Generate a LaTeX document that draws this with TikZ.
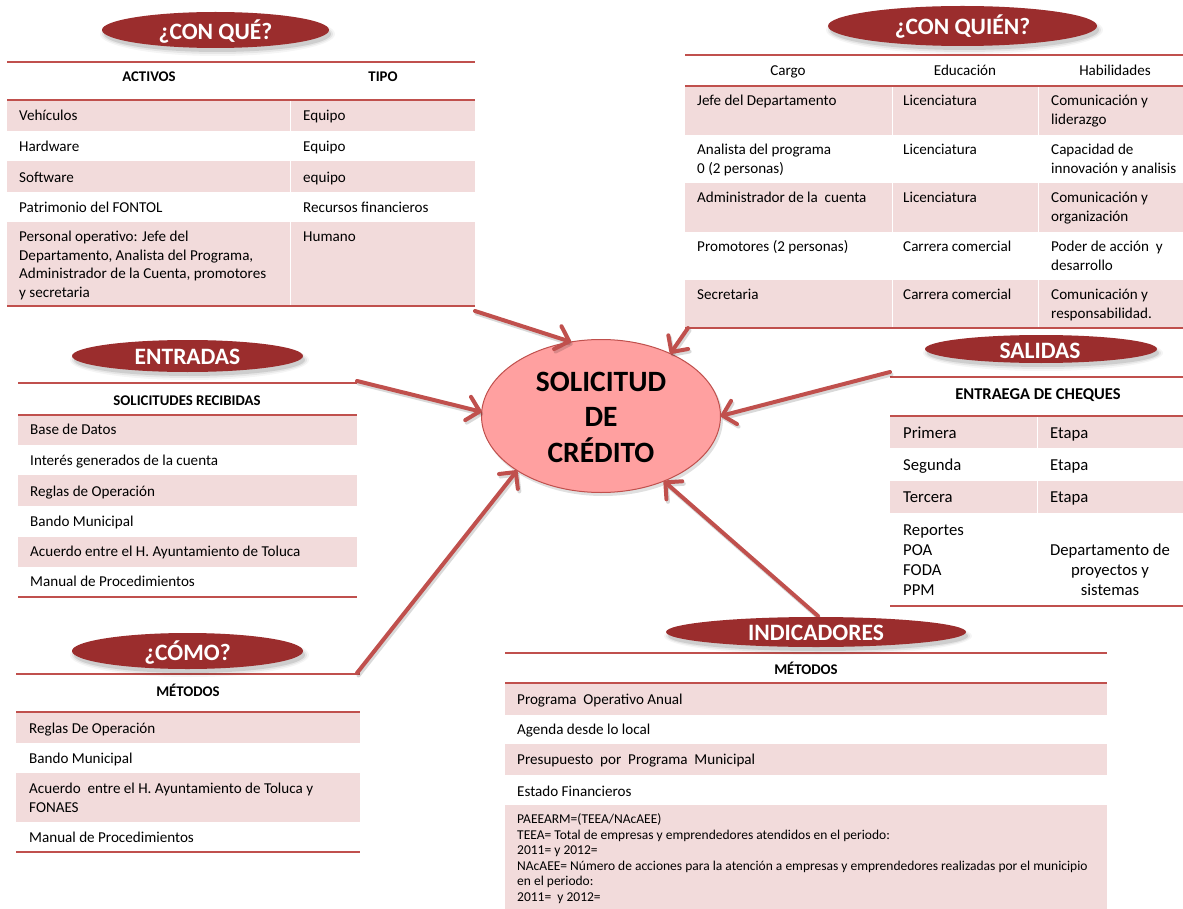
\documentclass[tikz,border=0pt]{standalone}
\usepackage{fontspec}
\setmainfont{Carlito}
\usetikzlibrary{shapes.geometric,arrows.meta}

\definecolor{lineRed}{RGB}{192,80,77}
\definecolor{rowPink}{RGB}{242,219,219}
\definecolor{banRed}{RGB}{155,45,45}
\definecolor{coreFill}{RGB}{255,160,160}

\newcommand\fcell{\fontsize{15.1pt}{18.5pt}\selectfont}
\newcommand\fcellq{\fontsize{15.1pt}{19pt}\selectfont}
\newcommand\fhead{\fontsize{14.8pt}{18.5pt}\selectfont\bfseries}
\newcommand\fsal{\fontsize{16.7pt}{20pt}\selectfont}
\newcommand\fsalb{\fontsize{16.5pt}{20pt}\selectfont\bfseries}
\newcommand\fsmall{\fontsize{13.5pt}{15.6pt}\selectfont}
\newcommand\fban{\fontsize{23.5pt}{28pt}\selectfont\bfseries}
\newcommand\fcore{\fontsize{29.5pt}{35.5pt}\selectfont\bfseries}
\newcommand\mlines[2]{\parbox[t]{#1pt}{\raggedright #2}}
\newcommand\mclines[2]{\parbox[t]{#1pt}{\centering #2}}
% soft shadow under a banner: centre x, centre y, width, height
\newcommand\bshadow[4]{%
  \foreach \k/\o in {0/0.10,2/0.06,4/0.04}{
    \fill[black,opacity=\o] (#1+2,#2+4) ellipse [x radius={#3/2+\k}, y radius={#4/2+\k}];
  }}

\tikzset{
  rule/.style={draw=lineRed, line width=1.8pt},
  rowfill/.style={fill=rowPink},
  coldiv/.style={draw=white, line width=1pt},
  cell/.style={anchor=base west, inner sep=0pt, font=\fcell},
  qcell/.style={anchor=base west, inner sep=0pt, font=\fcellq},
  salcell/.style={anchor=base west, inner sep=0pt, font=\fsal},
  smallcell/.style={anchor=base west, inner sep=0pt, font=\fsmall},
  hcell/.style={anchor=base, inner sep=0pt, font=\fhead},
  hplain/.style={anchor=base, inner sep=0pt, font=\fcell},
  banner/.style={ellipse, fill=banRed, inner sep=0pt, outer sep=0pt},
  bantext/.style={anchor=base, inner sep=0pt, text=white, font=\fban},
  arr/.style={draw=lineRed, line width=4pt, line cap=round, line join=round,
    -{Straight Barb[length=12pt,width=24pt,round]}},
  arrsh/.style={draw=black, opacity=0.15, line width=4pt, line cap=round, line join=round,
    -{Straight Barb[length=12pt,width=24pt,round]}},
}

\begin{document}
\begin{tikzpicture}[x=1pt,y=-1pt]
\useasboundingbox (0,0) rectangle (1183,909);
\fill[white] (0,0) rectangle (1183,909);

% ---------- ¿CON QUÉ? table ----------
\fill[rowfill] (7,100) rectangle (475,131);
\fill[rowfill] (7,161) rectangle (475,192);
\fill[rowfill] (7,222) rectangle (475,306);
\draw[coldiv] (290,100) -- (290,306);
\draw[rule] (7,62) -- (475,62);
\draw[rule] (7,100) -- (475,100);
\draw[rule] (7,306) -- (475,306);
\node[hcell] (q-h1) at (149,82) {ACTIVOS};
\node[hcell] (q-h2) at (383,82) {TIPO};
\node[cell] (q-1a) at (19,120.5) {Vehículos};
\node[cell] (q-1b) at (303,120.5) {Equipo};
\node[cell] (q-2a) at (19,151.5) {Hardware};
\node[cell] (q-2b) at (303,151.5) {Equipo};
\node[cell] (q-3a) at (19,182.5) {Software};
\node[cell] (q-3b) at (303,182.5) {equipo};
\node[cell] (q-4a) at (19,212.5) {Patrimonio del FONTOL};
\node[cell] (q-4b) at (303,212.5) {Recursos financieros};
\node[cell] (q-5a) at (19,242) {\mlines{300}{Personal operativo: Jefe del\\Departamento, Analista del Programa,\\Administrador de la Cuenta, promotores\\y secretaria}};
\node[cell] (q-5b) at (303,242) {Humano};

% ---------- ¿CON QUIÉN? table ----------
\fill[rowfill] (685,86) rectangle (1183,135);
\fill[rowfill] (685,183) rectangle (1183,232);
\fill[rowfill] (685,280) rectangle (1183,328);
\draw[coldiv] (892,86) -- (892,328);
\draw[coldiv] (1038,86) -- (1038,328);
\draw[rule] (685,55) -- (1183,55);
\draw[rule] (685,86) -- (1183,86);
\draw[rule] (685,328) -- (1183,328);
\node[hplain] (w-h1) at (788,76) {Cargo};
\node[hplain] (w-h2) at (965,76) {Educación};
\node[hplain] (w-h3) at (1115,76) {Habilidades};
\node[qcell] (w-1a) at (697,105.5) {Jefe del Departamento};
\node[qcell] (w-1b) at (903,105.5) {Licenciatura};
\node[qcell] (w-1c) at (1051,105.5) {\mlines{200}{Comunicación y\\liderazgo}};
\node[qcell] (w-2a) at (697,154.5) {\mlines{200}{Analista del programa\\0 (2 personas)}};
\node[qcell] (w-2b) at (903,154.5) {Licenciatura};
\node[qcell] (w-2c) at (1051,154.5) {\mlines{200}{Capacidad de\\innovación y analisis}};
\node[qcell] (w-3a) at (697,202.5) {Administrador de la~ cuenta};
\node[qcell] (w-3b) at (903,202.5) {Licenciatura};
\node[qcell] (w-3c) at (1051,202.5) {\mlines{200}{Comunicación y\\organización}};
\node[qcell] (w-4a) at (697,251.5) {Promotores (2 personas)};
\node[qcell] (w-4b) at (903,251.5) {Carrera comercial};
\node[qcell] (w-4c) at (1051,251.5) {\mlines{200}{Poder de acción~ y\\desarrollo}};
\node[qcell] (w-5a) at (697,299.5) {Secretaria};
\node[qcell] (w-5b) at (903,299.5) {Carrera comercial};
\node[qcell] (w-5c) at (1051,299.5) {\mlines{200}{Comunicación y\\responsabilidad.}};

% ---------- ENTRADAS table ----------
\fill[rowfill] (18,415) rectangle (357,445);
\fill[rowfill] (18,475) rectangle (357,506);
\fill[rowfill] (18,537) rectangle (357,567);
\draw[rule] (18,383) -- (357,383);
\draw[rule] (18,415) -- (357,415);
\draw[rule] (18,597) -- (357,597);
\node[hcell] (e-h) at (187,405) {SOLICITUDES RECIBIDAS};
\node[cell] (e-1) at (30,434.5) {Base de Datos};
\node[cell] (e-2) at (30,465.5) {Interés generados de la cuenta};
\node[cell] (e-3) at (30,496) {Reglas de Operación};
\node[cell] (e-4) at (30,526) {Bando Municipal};
\node[cell] (e-5) at (30,556) {Acuerdo entre el H. Ayuntamiento de Toluca};
\node[cell] (e-6) at (30,586) {Manual de Procedimientos};

% ---------- SALIDAS table ----------
\fill[rowfill] (890,416) rectangle (1183,448);
\fill[rowfill] (890,481) rectangle (1183,513);
\draw[coldiv] (1037,416) -- (1037,513);
\draw[rule] (890,377) -- (1183,377);
\draw[rule] (890,416) -- (1183,416);
\draw[rule] (890,606) -- (1183,606);
\node[anchor=base, inner sep=0pt, font=\fsalb] (s-h) at (1038,399) {ENTRAEGA DE CHEQUES};
\node[salcell] (s-1a) at (903,438) {Primera};
\node[salcell] (s-1b) at (1050,438) {Etapa};
\node[salcell] (s-2a) at (903,470) {Segunda};
\node[salcell] (s-2b) at (1050,470) {Etapa};
\node[salcell] (s-3a) at (903,502.5) {Tercera};
\node[salcell] (s-3b) at (1050,502.5) {Etapa};
\node[salcell] (s-4a) at (903,535) {\mlines{120}{Reportes\\POA\\FODA\\PPM}};
\node[anchor=base, inner sep=0pt, font=\fsal] (s-4b) at (1110,555) {\mclines{140}{Departamento de\\proyectos y\\sistemas}};

% ---------- ¿CÓMO? table ----------
\fill[rowfill] (16,712) rectangle (360,743);
\fill[rowfill] (16,773) rectangle (360,822);
\draw[rule] (16,674) -- (360,674);
\draw[rule] (16,712) -- (360,712);
\draw[rule] (16,852) -- (360,852);
\node[hcell] (c-h) at (188,696) {MÉTODOS};
\node[cell] (c-1) at (29,733) {Reglas De Operación};
\node[cell] (c-2) at (29,763) {Bando Municipal};
\node[cell] (c-3) at (29,793.5) {\mlines{330}{Acuerdo~ entre el H. Ayuntamiento de Toluca y\\FONAES}};
\node[cell] (c-4) at (29,842) {Manual de Procedimientos};

% ---------- INDICADORES table ----------
\fill[rowfill] (505,683) rectangle (1107,715);
\fill[rowfill] (505,744) rectangle (1107,775);
\fill[rowfill] (505,805) rectangle (1107,909);
\draw[rule] (505,653) -- (1107,653);
\draw[rule] (505,683) -- (1107,683);
\node[hcell] (i-h) at (806,674) {MÉTODOS};
\node[cell] (i-1) at (517,704.5) {Programa~ Operativo Anual};
\node[cell] (i-2) at (517,734.5) {Agenda desde lo local};
\node[cell] (i-3) at (517,764.5) {Presupuesto~ por~ Programa~ Municipal};
\node[cell] (i-4) at (517,796) {Estado Financieros};
\node[smallcell] (i-5) at (517,823.5) {\mlines{600}{PAEEARM=(TEEA/NAcAEE)\\TEEA= Total de empresas y emprendedores atendidos en el periodo:\\2011= y 2012=\\NAcAEE= Número de acciones para la atención a empresas y emprendedores realizadas por el municipio\\en el periodo:\\2011=~ y 2012=}};

% ---------- central ellipse ----------
\fill[black,opacity=0.12] (603,419) ellipse [x radius=120, y radius=77];
\node[ellipse, draw=lineRed, line width=1pt, fill=coreFill, minimum width=239pt,
  minimum height=153pt, inner sep=0pt, outer sep=0pt] (sol) at (601,416) {};
\node[anchor=base, inner sep=0pt, font=\fcore] (sol-t) at (601,391) {\mclines{220}{SOLICITUD\\DE\\CRÉDITO}};

% ---------- connectors ----------
\coordinate (s1) at (475,311);
\coordinate (s2) at (688,328);
\coordinate (s3) at (357,381);
\coordinate (s4) at (890,372);
\coordinate (s5) at (357,673);
\coordinate (s6) at (818,616);
\foreach \s/\a in {s1/112,s2/42,s3/178.6,s4/0.5,s5/213,s6/314}{
  \draw[arrsh] ([shift={(1.5,2.5)}]\s) -- ([shift={(1.5,2.5)}]sol.\a);
  \draw[arr] (\s) -- (sol.\a);
}

% ---------- banners ----------
\bshadow{215.5}{30}{227}{36}
\node[banner, minimum width=227pt, minimum height=36pt] (b-que) at (215.5,30) {};
\node[bantext] (b-que-t) at (215.5,39.3) {¿CON QUÉ?};

\bshadow{962.5}{26}{269}{40}
\node[banner, minimum width=269pt, minimum height=40pt] (b-quien) at (962.5,26) {};
\node[bantext] (b-quien-t) at (962.5,34.3) {¿CON QUIÉN?};

\bshadow{187.5}{356}{231}{32}
\node[banner, minimum width=231pt, minimum height=32pt] (b-ent) at (187.5,356) {};
\node[bantext] (b-ent-t) at (187.5,364) {ENTRADAS};

\bshadow{1041}{349}{232}{28}
\node[banner, minimum width=232pt, minimum height=28pt] (b-sal) at (1041,349) {};
\node[bantext] (b-sal-t) at (1040,358) {SALIDAS};

\bshadow{187.5}{651}{231}{36}
\node[banner, minimum width=231pt, minimum height=36pt] (b-como) at (187.5,651) {};
\node[bantext] (b-como-t) at (187.5,660.7) {¿CÓMO?};

\bshadow{816}{632}{300}{30}
\node[banner, minimum width=300pt, minimum height=30pt] (b-ind) at (816,632) {};
\node[bantext] (b-ind-t) at (816,640) {INDICADORES};
\end{tikzpicture}
\end{document}
